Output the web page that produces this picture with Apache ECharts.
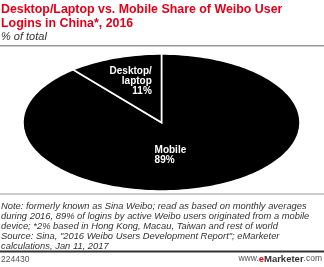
<!DOCTYPE html>
<html><head><meta charset="utf-8">
<script src="https://cdn.jsdelivr.net/npm/echarts@6/dist/echarts.min.js"></script>
<style>html,body{margin:0;padding:0;background:#fff}#c{width:324px;height:267px}</style>
</head><body><div id="c"></div>
<script>
const categories = ['Mobile', 'Desktop/\nlaptop'];
const values = [89, 11];
const titleText = 'Desktop/Laptop vs. Mobile Share of Weibo User\nLogins in China*, 2016';
const subtitleText = '% of total';
const noteText = 'Note: formerly known as Sina Weibo; read as based on monthly averages\nduring 2016, 89% of logins by active Weibo users originated from a mobile\ndevice; *2% based in Hong Kong, Macau, Taiwan and rest of world\nSource: Sina, "2016 Weibo Users Development Report"; eMarketer\ncalculations, Jan 11, 2017';
const chartId = '224430';

const FONT = '"Liberation Sans", Arial, sans-serif';
// label anchor positions in axis units (style, not data)
const labelPos = [
  { x: -0.05, y: -0.33, align: 'left' },
  { x: -0.07, y: 0.82, align: 'right' }
];
const total = values.reduce((a, b) => a + b, 0);
const starts = [];
let acc = 0;
values.forEach(v => { starts.push(acc); acc += v; });

const chart = echarts.init(document.getElementById('c'), null, { renderer: 'canvas' });
chart.setOption({
  animation: false,
  backgroundColor: '#fff',
  title: [
    { text: titleText, left: 1, top: 3, padding: 0, textStyle: { color: '#e2001a', fontSize: 12.4, fontWeight: 'bold', fontFamily: FONT, lineHeight: 14 } },
    { text: subtitleText, left: 1, top: 31, padding: 0, textStyle: { color: '#333', fontSize: 11, fontStyle: 'italic', fontWeight: 'normal', fontFamily: FONT } }
  ],
  grid: { left: 23, right: 24, top: 54, bottom: 76 },
  xAxis: { type: 'value', min: -1, max: 1, show: false },
  yAxis: { type: 'value', min: -1, max: 1, show: false },
  series: [{
    type: 'custom',
    data: values.map((v, i) => [i, v]),
    renderItem: function (params, api) {
      const i = api.value(0);
      const f0 = starts[i] / total, f1 = (starts[i] + api.value(1)) / total;
      const pts = [api.coord([0, 0])];
      const n = Math.max(4, Math.ceil((f1 - f0) * 200));
      for (let k = 0; k <= n; k++) {
        const a = 2 * Math.PI * (f0 + (f1 - f0) * k / n);
        pts.push(api.coord([Math.sin(a), Math.cos(a)]));
      }
      const lp = labelPos[i];
      const tp = api.coord([lp.x, lp.y]);
      return {
        type: 'group',
        children: [
          { type: 'polygon', shape: { points: pts }, style: { fill: '#000', stroke: '#fff', lineWidth: 1.6 } },
          { type: 'text', x: tp[0], y: tp[1], style: {
            text: categories[i] + '\n' + api.value(1) + '%', fill: '#fff', font: 'bold 10px ' + FONT,
            align: lp.align, verticalAlign: 'top', lineHeight: 10 } }
        ]
      };
    }
  }],
  graphic: [
    { type: 'rect', shape: { x: 0, y: 45, width: 324, height: 1.5 }, style: { fill: '#999' } },
    { type: 'rect', shape: { x: 0, y: 193.5, width: 324, height: 1 }, style: { fill: '#999' } },
    { type: 'text', x: 1, y: 201, style: { text: noteText, fill: '#333', font: 'italic 9.4px ' + FONT, lineHeight: 10 } },
    { type: 'rect', shape: { x: 0, y: 250.5, width: 324, height: 2 }, style: { fill: '#333' } },
    { type: 'text', x: 1, y: 255, style: { text: chartId, fill: '#555', font: '8.5px ' + FONT } },
    { type: 'text', right: 2, y: 254, style: {
      text: '{a|www.}{e|e}{m|Marketer}{a|.com}',
      rich: {
        a: { fill: '#555', font: '8.5px ' + FONT },
        e: { fill: '#e2001a', font: 'bold 9.5px ' + FONT },
        m: { fill: '#333', font: 'bold 9.5px ' + FONT }
      } } }
  ]
});
</script></body></html>
